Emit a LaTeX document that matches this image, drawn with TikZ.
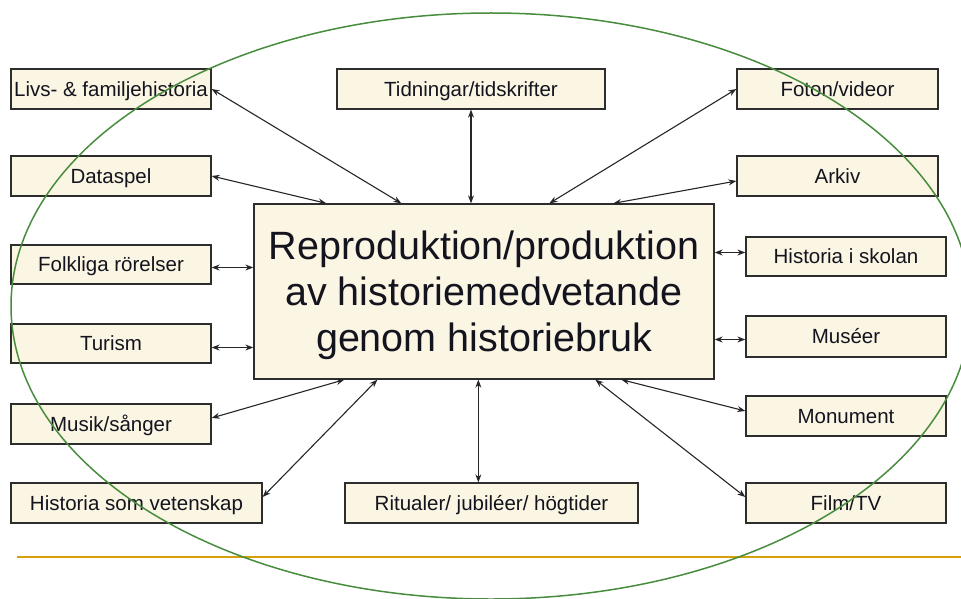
\documentclass[tikz,border=0pt]{standalone}
\usepackage{fontspec}
\setmainfont{Liberation Sans}
\usetikzlibrary{arrows.meta,calc}
\definecolor{boxfill}{RGB}{251,245,228}
\definecolor{boxline}{RGB}{45,45,45}
\definecolor{ringgreen}{RGB}{72,140,62}
\definecolor{rulegold}{RGB}{214,160,10}
\definecolor{txt}{RGB}{20,20,30}
\begin{document}
\begin{tikzpicture}[x=1pt,y=-1pt,
  item/.style={draw=boxline, line width=1.3pt, fill=boxfill, inner sep=0pt,
    minimum height=40pt, minimum width=200pt, text=txt,
    text height=14.7pt, text depth=0pt,
    font=\fontsize{20.5}{24}\selectfont},
  hub/.style={draw=boxline, line width=1.3pt, fill=boxfill, inner sep=0pt,
    minimum width=460pt, minimum height=175pt},
  hubtext/.style={align=center, inner sep=0pt, text=txt,
    font=\fontsize{39.5}{46}\selectfont},
  link/.style={{Stealth[length=8pt,width=6pt]}-{Stealth[length=8pt,width=6pt]},
    line width=1.1pt, draw=black!85}]
\useasboundingbox (0,0) rectangle (961,599);

% outer boxes
\node[item] (livs) at (111,89) {Livs- \& familjehistoria};
\node[item, minimum width=268pt] (tidn) at (471,89) {Tidningar/tidskrifter};
\node[item, minimum width=201pt] (foton) at (837.5,89) {Foton/videor};
\node[item] (data) at (111,176) {Dataspel};
\node[item, minimum width=201pt] (arkiv) at (837.5,176) {Arkiv};
\node[item, minimum height=39pt] (folk) at (111,264.5) {Folkliga rörelser};
\node[item, minimum height=39pt] (skolan) at (846,256.5) {Historia i skolan};
\node[item, minimum height=39pt] (turism) at (111,343.5) {Turism};
\node[item, minimum height=41pt] (museer) at (846,336.5) {Muséer};
\node[item] (musik) at (111,424) {Musik/sånger};
\node[item] (monument) at (846,416) {Monument};
\node[item, minimum width=251pt] (vet) at (136.5,503) {Historia som vetenskap};
\node[item, minimum width=293pt] (rit) at (491.5,503) {Ritualer/ jubiléer/ högtider};
\node[item] (film) at (846,503) {Film/TV};

% central box and its three-line title
\node[hub] (c) at (484,291.5) {};
\node[hubtext] (ctext) at (484,295.5) {Reproduktion/produktion\\av historiemedvetande\\genom historiebruk};

% connectors
\draw[link] (livs.east) -- ($(c.north west)+(148,0)$);
\draw[link] (tidn.south) -- (tidn.south |- c.north);
\draw[link] (foton.west) -- ($(c.north west)+(296,0)$);
\draw[link] (data.east) -- ($(c.north west)+(73,0)$);
\draw[link] ([yshift=-5pt]arkiv.west) -- ($(c.north west)+(360,0)$);
\draw[link] ([yshift=-3pt]folk.east) -- ([yshift=-3pt]folk.east -| c.west);
\draw[link] ([yshift=-4pt]turism.east) -- ([yshift=-4pt]turism.east -| c.west);
\draw[link] ([yshift=4pt]skolan.west) -- ([yshift=4pt]skolan.west -| c.east);
\draw[link] ([yshift=-3pt]museer.west) -- ([yshift=-3pt]museer.west -| c.east);
\draw[link] ([yshift=6pt]musik.east) -- ($(c.south west)+(91,0)$);
\draw[link] ([yshift=6pt]vet.east) -- ($(c.south west)+(124,0)$);
\coordinate (rb) at ($(c.south west)+(225,0)$);
\draw[link] (rb) -- (rb |- rit.north);
\draw[link] ([yshift=5pt]monument.west) -- ($(c.south west)+(368,0)$);
\draw[link] ([yshift=6pt]film.west) -- ($(c.south west)+(342,0)$);

% rule and ring
\draw[rulegold, line width=2pt] (17,557) -- (961,557);
\draw[ringgreen, line width=1.5pt] (491,306) ellipse [x radius=480, y radius=293];
\end{tikzpicture}
\end{document}
